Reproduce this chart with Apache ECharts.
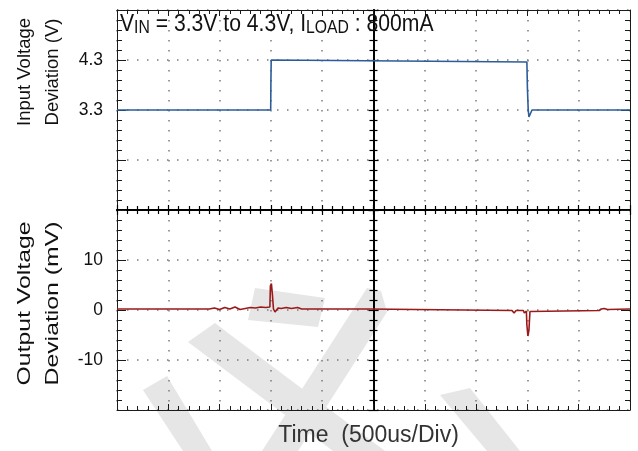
<!DOCTYPE html>
<html>
<head>
<meta charset="utf-8">
<script src="https://cdn.jsdelivr.net/npm/echarts@6/dist/echarts.min.js"></script>
<style>
  html, body { margin: 0; padding: 0; background: #fff; }
  #chart { width: 638px; height: 451px; }
</style>
</head>
<body>
<div id="chart"></div>
<script>
// time in us, 500us/div, 10 divs
const timeMin = 0
const timeMax = 5000
const timeStep = 500

// input voltage (V) vs time (us)
const inputTime = [0, 1498, 1500, 1503, 1510, 1520, 3995, 4000, 4008, 4015, 4030, 4045, 5000]
const inputVolt = [3.3, 3.3, 3.85, 4.3, 4.33, 4.26, 4.26, 3.75, 3.3, 3.16, 3.2, 3.3, 3.3]

// output deviation (mV) vs time (us)
const outputTime = [0, 900, 950, 1000, 1050, 1100, 1150, 1200, 1250, 1300, 1350, 1400, 1450, 1490,
  1495, 1505, 1515, 1525, 1540, 1570, 1600, 1650, 1700, 1760, 1800, 2450, 2460,
  3850, 3870, 3890, 3960, 3970, 3990, 3995, 4005, 4015, 4025, 4040, 4700, 4720, 4750, 4780, 5000]
const outputMv = [0.2, 0.2, 0.4, 0.1, 0.5, 0.2, 0.6, 0.1, 0.3, 0.5, 0.4, 0.6, 0.5, 0.6,
  4.8, 5.3, 3.0, 0.2, -0.4, 0.4, 0.3, 0.5, 0.3, 0.5, 0.2, 0.2, -0.1,
  -0.1, -0.6, -0.1, -0.1, -0.6, -0.2, -3.0, -5.2, -4.0, -0.3, -0.1, -0.1, 0.2, 0.3, 0.1, 0.2]

const inputTicks = [3.3, 4.3]
const inputRange = [1.3, 5.3]
const outputRange = [-20, 20]
const outputStep = 10

const FONT = 'Liberation Sans, Arial, sans-serif'
const INK = '#1a1a1a'
const DOTS = { color: '#7a7a7a', width: 1.5, type: [1.5, 8.5] }

const chart = echarts.init(document.getElementById('chart'))

// scope-style frame axis (no labels)
function frameX(grid, pos, extra) {
  return Object.assign({
    type: 'value', gridIndex: grid, position: pos,
    min: timeMin, max: timeMax, interval: timeStep,
    axisLabel: { show: false },
    splitLine: { show: false },
    axisLine: { onZero: false, lineStyle: { color: INK, width: 1 } },
    axisTick: { inside: true, length: 6, lineStyle: { color: INK } },
    minorTick: { show: true, splitNumber: 5, length: 4, lineStyle: { color: INK } },
  }, extra)
}
function divY(grid, pos, extra) {
  return Object.assign({
    type: 'value', gridIndex: grid, position: pos,
    min: 0, max: 4, interval: 1,
    axisLabel: { show: false },
    splitLine: { show: false },
    axisLine: { onZero: false, lineStyle: { color: INK, width: 1 } },
    axisTick: { inside: true, length: 9, lineStyle: { color: INK } },
    minorTick: { show: true, splitNumber: 5, length: 5, lineStyle: { color: INK } },
  }, extra)
}
const cross = { onZero: false, lineStyle: { color: '#000', width: 1.8 } }
const crossTick = { inside: true, length: 5, lineStyle: { color: '#000', width: 1.2 } }
const crossMinor = { show: true, splitNumber: 5, length: 4, lineStyle: { color: '#000', width: 1.2 } }
const crossOut = Object.assign({}, crossTick, { inside: false })

// background watermark
const wm = { fill: '#e6e6e6' }
const watermark = [
  [[143, 390], [167, 376], [212, 451], [183, 451]],
  [[188, 342], [215, 323], [228, 333], [385, 451], [333, 451]],
  [[367, 288], [381, 291], [387, 312], [298, 451], [262, 451]],
  [[255, 288], [325, 298], [318, 327], [248, 320]],
  [[440, 395], [470, 388], [520, 451], [487, 451]],
].map(pts => ({ type: 'polygon', z: -10, silent: true, shape: { points: pts }, style: wm }))

chart.setOption({
  animation: false,
  backgroundColor: '#fff',
  textStyle: { fontFamily: FONT },
  graphic: watermark.concat([
    {
      // condition text, slightly condensed like the source art
      type: 'text', x: 120, y: 24.7, scaleX: 0.9, z: 10,
      style: {
        text: 'V{s|IN} = 3.3V to 4.3V, I{s|LOAD} : 800mA',
        font: '23.5px ' + FONT, fill: '#111', lineHeight: 24,
        align: 'left', verticalAlign: 'middle',
        rich: { s: { font: '17.5px ' + FONT, fill: '#111', lineHeight: 20, verticalAlign: 'bottom' } },
      },
    },
    {
      // lower panel name: the source art is stretched along the text
      type: 'text', x: 39, y: 303.5, rotation: Math.PI / 2, scaleX: 1.34, z: 10,
      style: {
        text: 'Output Voltage\nDeviation (mV)', font: '18.5px ' + FONT, lineHeight: 28,
        fill: '#111', align: 'center', verticalAlign: 'middle',
      },
    },
  ]),
  grid: [
    { left: 117, right: 8, top: 10, height: 200 },
    { left: 117, right: 8, top: 210, height: 200 },
  ],
  xAxis: [
    frameX(0, 'top', { splitLine: { show: true, lineStyle: DOTS } }),
    frameX(0, 'bottom', { axisLine: cross, axisTick: crossTick, minorTick: crossMinor }),
    frameX(1, 'top', { axisLine: cross, axisTick: crossTick, minorTick: crossMinor }),
    frameX(1, 'bottom', {
      splitLine: { show: true, lineStyle: DOTS },
      name: 'Time  (500us/Div)', nameLocation: 'middle', nameGap: 14,
      nameTextStyle: { fontFamily: FONT, fontSize: 23, color: '#333', padding: [0, 10, 0, 0] },
    }),
  ],
  yAxis: [
    {
      type: 'value', gridIndex: 0, position: 'left',
      min: inputRange[0], max: inputRange[1],
      axisLine: { show: false, onZero: false },
      axisTick: { show: false },
      splitLine: { show: false },
      axisLabel: { customValues: inputTicks, fontFamily: FONT, fontSize: 17.5, color: '#111', margin: 14 },
      name: 'Input Voltage\nDeviation (V)', nameLocation: 'middle', nameGap: 50, nameRotate: 90,
      nameTextStyle: { fontFamily: FONT, fontSize: 18.5, color: '#111', lineHeight: 28, padding: [0, 0, 0, 76] },
    },
    divY(0, 'left', { splitLine: { show: true, lineStyle: DOTS } }),
    divY(0, 'right'),
    divY(0, 'left', { offset: -256.5, axisLine: cross, axisTick: crossOut, minorTick: crossMinor }),
    divY(0, 'right', { offset: -256.5, axisLine: cross, axisTick: crossOut, minorTick: crossMinor }),
    {
      type: 'value', gridIndex: 1, position: 'left',
      min: outputRange[0], max: outputRange[1], interval: outputStep,
      axisLine: { onZero: false, lineStyle: { color: INK, width: 1 } },
      axisTick: { inside: true, length: 9, lineStyle: { color: INK } },
      minorTick: { show: true, splitNumber: 5, length: 5, lineStyle: { color: INK } },
      splitLine: { show: true, lineStyle: DOTS },
      axisLabel: { showMinLabel: false, showMaxLabel: false, fontFamily: FONT, fontSize: 17.5, color: '#111', margin: 14 },
    },
    divY(1, 'right'),
    divY(1, 'left', { offset: -256.5, axisLine: cross, axisTick: crossOut, minorTick: crossMinor }),
    divY(1, 'right', { offset: -256.5, axisLine: cross, axisTick: crossOut, minorTick: crossMinor }),
  ],
  series: [
    {
      type: 'line', xAxisIndex: 0, yAxisIndex: 0,
      data: inputTime.map((t, i) => [t, inputVolt[i]]),
      showSymbol: false, z: 5,
      lineStyle: { color: '#2c5d9a', width: 1.6 },
    },
    {
      type: 'line', xAxisIndex: 3, yAxisIndex: 5,
      data: outputTime.map((t, i) => [t, outputMv[i]]),
      showSymbol: false, z: 5,
      lineStyle: { color: '#9a1a1a', width: 1.6 },
    },
  ],
})
window.addEventListener('resize', () => chart.resize())
</script>
</body>
</html>
